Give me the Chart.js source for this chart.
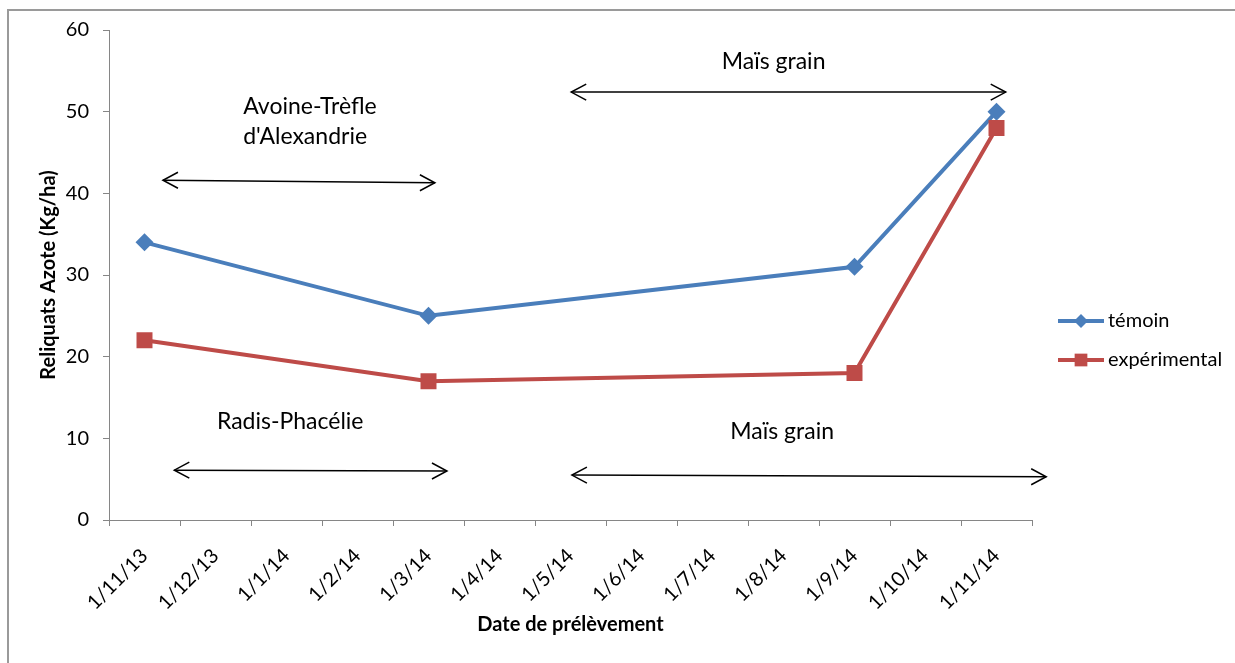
<!DOCTYPE html>
<html>
<head>
<meta charset="utf-8">
<script src="https://cdn.jsdelivr.net/npm/chart.js@4.4.0/dist/chart.umd.min.js"></script>
<style>
  html, body { margin: 0; padding: 0; background: #fff; }
  canvas { display: block; }
</style>
</head>
<body>
<canvas id="chart" width="1235" height="663"></canvas>
<script>
// monthly date axis, one category per month
const months = ['1/11/13', '1/12/13', '1/1/14', '1/2/14', '1/3/14', '1/4/14', '1/5/14',
  '1/6/14', '1/7/14', '1/8/14', '1/9/14', '1/10/14', '1/11/14'];
const temoin       = [34, null, null, null, 25, null, null, null, null, null, 31, null, 50];
const experimental = [22, null, null, null, 17, null, null, null, null, null, 18, null, 48];
const yMin = 0, yMax = 60, yStep = 10;

// crop periods drawn as double arrows (x = month index, y = value)
const cropLabels = [
  { lines: ['Avoine-Trèfle', "d'Alexandrie"], x: 1.39, y: 50.6 },
  { lines: ['Maïs grain'], x: 8.13, y: 56.1 },
  { lines: ['Radis-Phacélie'], x: 1.02, y: 12.0 },
  { lines: ['Maïs grain'], x: 8.25, y: 10.8 },
];
const cropArrows = [
  { x1: 0.26, y1: 41.6, x2: 4.09, y2: 41.3 },
  { x1: 6.01, y1: 52.4, x2: 12.13, y2: 52.4 },
  { x1: 0.42, y1: 6.1, x2: 4.26, y2: 6.0 },
  { x1: 6.02, y1: 5.5, x2: 12.70, y2: 5.3 },
];

const BLUE = '#4a7ebb', RED = '#be4b48', AXIS = '#868686';
const FONT = 'Lato';
const tickFont = { family: FONT, size: 20 };
const titleFont = { family: FONT, size: 20, weight: 'bold' };

function arrowHead(ctx, x, y, dir) {
  ctx.beginPath();
  ctx.moveTo(x + dir * 15, y - 8);
  ctx.lineTo(x, y);
  ctx.lineTo(x + dir * 15, y + 8);
  ctx.stroke();
}

const cropPlugin = {
  id: 'crops',
  afterDraw(chart) {
    const { ctx, scales: { x, y } } = chart;
    ctx.save();
    ctx.strokeStyle = '#000';
    ctx.lineWidth = 1.5;
    cropArrows.forEach(a => {
      const px1 = x.getPixelForValue(a.x1), py1 = y.getPixelForValue(a.y1);
      const px2 = x.getPixelForValue(a.x2), py2 = y.getPixelForValue(a.y2);
      ctx.beginPath();
      ctx.moveTo(px1, py1);
      ctx.lineTo(px2, py2);
      ctx.stroke();
      arrowHead(ctx, px1, py1, 1);
      arrowHead(ctx, px2, py2, -1);
    });
    ctx.fillStyle = '#000';
    ctx.font = '23px ' + FONT;
    ctx.textAlign = 'left';
    ctx.textBaseline = 'middle';
    cropLabels.forEach(l => {
      const px = x.getPixelForValue(l.x), py = y.getPixelForValue(l.y);
      l.lines.forEach((t, i) => ctx.fillText(t, px, py + i * 30));
    });
    ctx.restore();
  }
};

// legend on the right: line with marker, then label
const legendPlugin = {
  id: 'sideLegend',
  afterDraw(chart) {
    const { ctx, chartArea } = chart;
    const x0 = chartArea.right + 26;
    ctx.save();
    chart.data.datasets.forEach((ds, i) => {
      const yy = 321 + i * 39;
      ctx.strokeStyle = ds.borderColor;
      ctx.lineWidth = 4;
      ctx.beginPath();
      ctx.moveTo(x0, yy);
      ctx.lineTo(x0 + 46, yy);
      ctx.stroke();
      ctx.fillStyle = ds.borderColor;
      Chart.helpers.drawPoint(ctx, { pointStyle: ds.pointStyle, radius: ds.pointStyle === 'rect' ? 9 : 7, rotation: 0, borderWidth: 0 }, x0 + 23, yy);
      ctx.fillStyle = '#000';
      ctx.font = '20px ' + FONT;
      ctx.textAlign = 'left';
      ctx.textBaseline = 'middle';
      ctx.fillText(ds.label, x0 + 50, yy);
    });
    ctx.restore();
  }
};

const framePlugin = {
  id: 'frame',
  beforeDraw(chart) {
    const { ctx } = chart;
    ctx.save();
    ctx.strokeStyle = '#9a9a9a';
    ctx.lineWidth = 2;
    ctx.beginPath();
    ctx.moveTo(8, chart.height + 5);
    ctx.lineTo(8, 10);
    ctx.lineTo(chart.width + 5, 10);
    ctx.stroke();
    ctx.restore();
  }
};

new Chart(document.getElementById('chart'), {
  type: 'line',
  data: {
    labels: months,
    datasets: [
      { label: 'témoin', data: temoin, borderColor: BLUE, backgroundColor: BLUE, borderWidth: 4,
        pointStyle: 'rectRot', pointRadius: 9, pointBackgroundColor: BLUE, pointBorderColor: BLUE,
        pointBorderWidth: 0, spanGaps: true, tension: 0, order: 1 },
      { label: 'expérimental', data: experimental, borderColor: RED, backgroundColor: RED, borderWidth: 4,
        pointStyle: 'rect', pointRadius: 11.3, pointBackgroundColor: RED, pointBorderColor: RED,
        pointBorderWidth: 0, spanGaps: true, tension: 0, order: 0 },
    ]
  },
  options: {
    responsive: false,
    animation: false,
    layout: { padding: { left: 0, right: 203, top: 30, bottom: 0 } },
    plugins: { legend: { display: false }, tooltip: { enabled: false } },
    scales: {
      x: {
        offset: true,
        grid: { offset: true, drawOnChartArea: false, tickLength: 6, color: AXIS },
        border: { color: AXIS, width: 1 },
        ticks: { minRotation: 45, maxRotation: 45, autoSkip: false, padding: 18, color: '#000', font: tickFont },
        title: { display: true, text: 'Date de prélèvement', color: '#000', font: titleFont, padding: { top: 0, bottom: 26 } },
        afterFit: s => { s.height = 143; },
      },
      y: {
        min: yMin, max: yMax,
        grid: { drawOnChartArea: false, tickLength: 6, color: AXIS },
        border: { color: AXIS, width: 1 },
        ticks: { stepSize: yStep, padding: 14, color: '#000', font: tickFont },
        title: { display: true, text: 'Reliquats Azote (Kg/ha)', color: '#000', font: titleFont, padding: { top: 37, bottom: 0 } },
        afterFit: s => { s.width = 109; },
      },
    },
  },
  plugins: [framePlugin, cropPlugin, legendPlugin],
});
</script>
</body>
</html>
